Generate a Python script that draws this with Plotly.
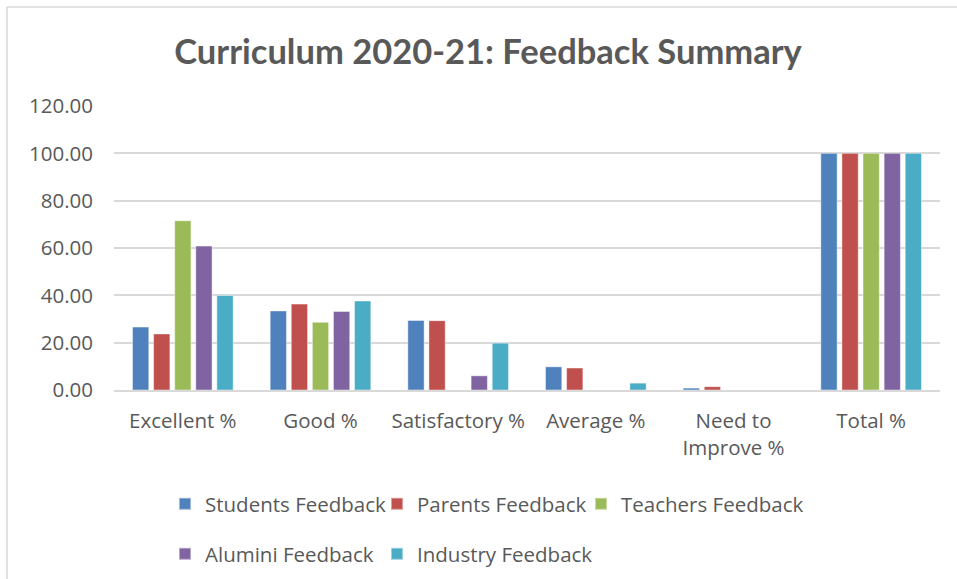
import plotly.graph_objects as go

categories = ["Excellent %", "Good %", "Satisfactory %", "Average %", "Need to<br>Improve %", "Total %"]
students = [26.6, 33.4, 29.4, 9.8, 0.8, 100.0]
parents = [23.7, 36.3, 29.3, 9.3, 1.4, 100.0]
teachers = [71.5, 28.6, 0.0, 0.0, 0.0, 100.0]
alumini = [60.8, 33.2, 6.0, 0.0, 0.0, 100.0]
industry = [39.9, 37.6, 19.8, 2.9, 0.0, 100.0]
series_names = ["Students Feedback", "Parents Feedback", "Teachers Feedback", "Alumini Feedback", "Industry Feedback"]
tick_vals = [0, 20, 40, 60, 80, 100, 120]
tick_text = ["0.00", "20.00", "40.00", "60.00", "80.00", "100.00", "120.00"]

colors = ["#4F81BD", "#C0504D", "#9BBB59", "#8064A2", "#4BACC6"]
values = [students, parents, teachers, alumini, industry]
legend_ids = ["legend", "legend2", "legend3", "legend4", "legend5"]
# legend symbol centre (px) and row centre (px)
legend_pos = [(185, 504), (397, 504), (601, 504), (185, 554), (397, 554)]

FONT = "'Open Sans', sans-serif"
TFONT = "Lato, 'Open Sans', sans-serif"
FS = 20.5
fig = go.Figure()
for name, vals, col, lg in zip(series_names, values, colors, legend_ids):
    fig.add_trace(go.Bar(x=categories, y=vals, name=name, marker_color=col,
                         marker_line=dict(color="rgba(255,255,255,0.45)", width=1),
                         legend=lg))

W, H = 957, 579
L, R, T, B = 114, 17, 106, 189
pw, ph = W - L - R, H - T - B

def px_x(p):
    return (p - L) / pw

def px_y(p):
    return (H - B - p) / ph

legend_layout = {}
for lg, (cx, cy) in zip(legend_ids, legend_pos):
    legend_layout[lg] = dict(orientation="h", xanchor="left", yanchor="middle",
                             x=px_x(cx - 20), y=px_y(cy),
                             font=dict(family=FONT, size=FS, color="#595959"),
                             itemsizing="constant", bgcolor="rgba(0,0,0,0)")

fig.update_layout(
    width=W, height=H,
    margin=dict(l=L, r=R, t=T, b=B, autoexpand=False),
    paper_bgcolor="white", plot_bgcolor="white",
    font=dict(family=FONT, color="#595959", size=FS),
    title=dict(text="<b>Curriculum 2020-21: Feedback Summary</b>", x=488 / W, xanchor="center",
               y=1 - 52 / H, yanchor="middle",
               font=dict(family=TFONT, size=34.5, color="#595959")),
    barmode="group", bargap=0.234, bargroupgap=0.227,
    showlegend=True,
    xaxis=dict(showgrid=False, showline=True, linecolor="#D9D9D9", linewidth=1.5,
               ticks="", tickfont=dict(family=FONT, size=FS, color="#595959"), ticklabelstandoff=12),
    yaxis=dict(range=[0, 120], tickvals=tick_vals, ticktext=tick_text, showgrid=True,
               gridcolor="#D9D9D9", gridwidth=1.5, zeroline=False, showline=False,
               ticks="", tickfont=dict(family=FONT, size=FS, color="#595959"), ticklabelstandoff=20),
    shapes=[
        dict(type="line", xref="paper", yref="paper", x0=px_x(7), x1=px_x(960), y0=px_y(7), y1=px_y(7),
             line=dict(color="#D9D9D9", width=1.5)),
        dict(type="line", xref="paper", yref="paper", x0=px_x(7), x1=px_x(7), y0=px_y(7), y1=px_y(590),
             line=dict(color="#D9D9D9", width=1.5)),
    ],
    **legend_layout,
)

fig.write_html("out.html", config={"displayModeBar": False},
               post_script="document.body.style.margin='0';document.body.style.overflow='hidden';")
